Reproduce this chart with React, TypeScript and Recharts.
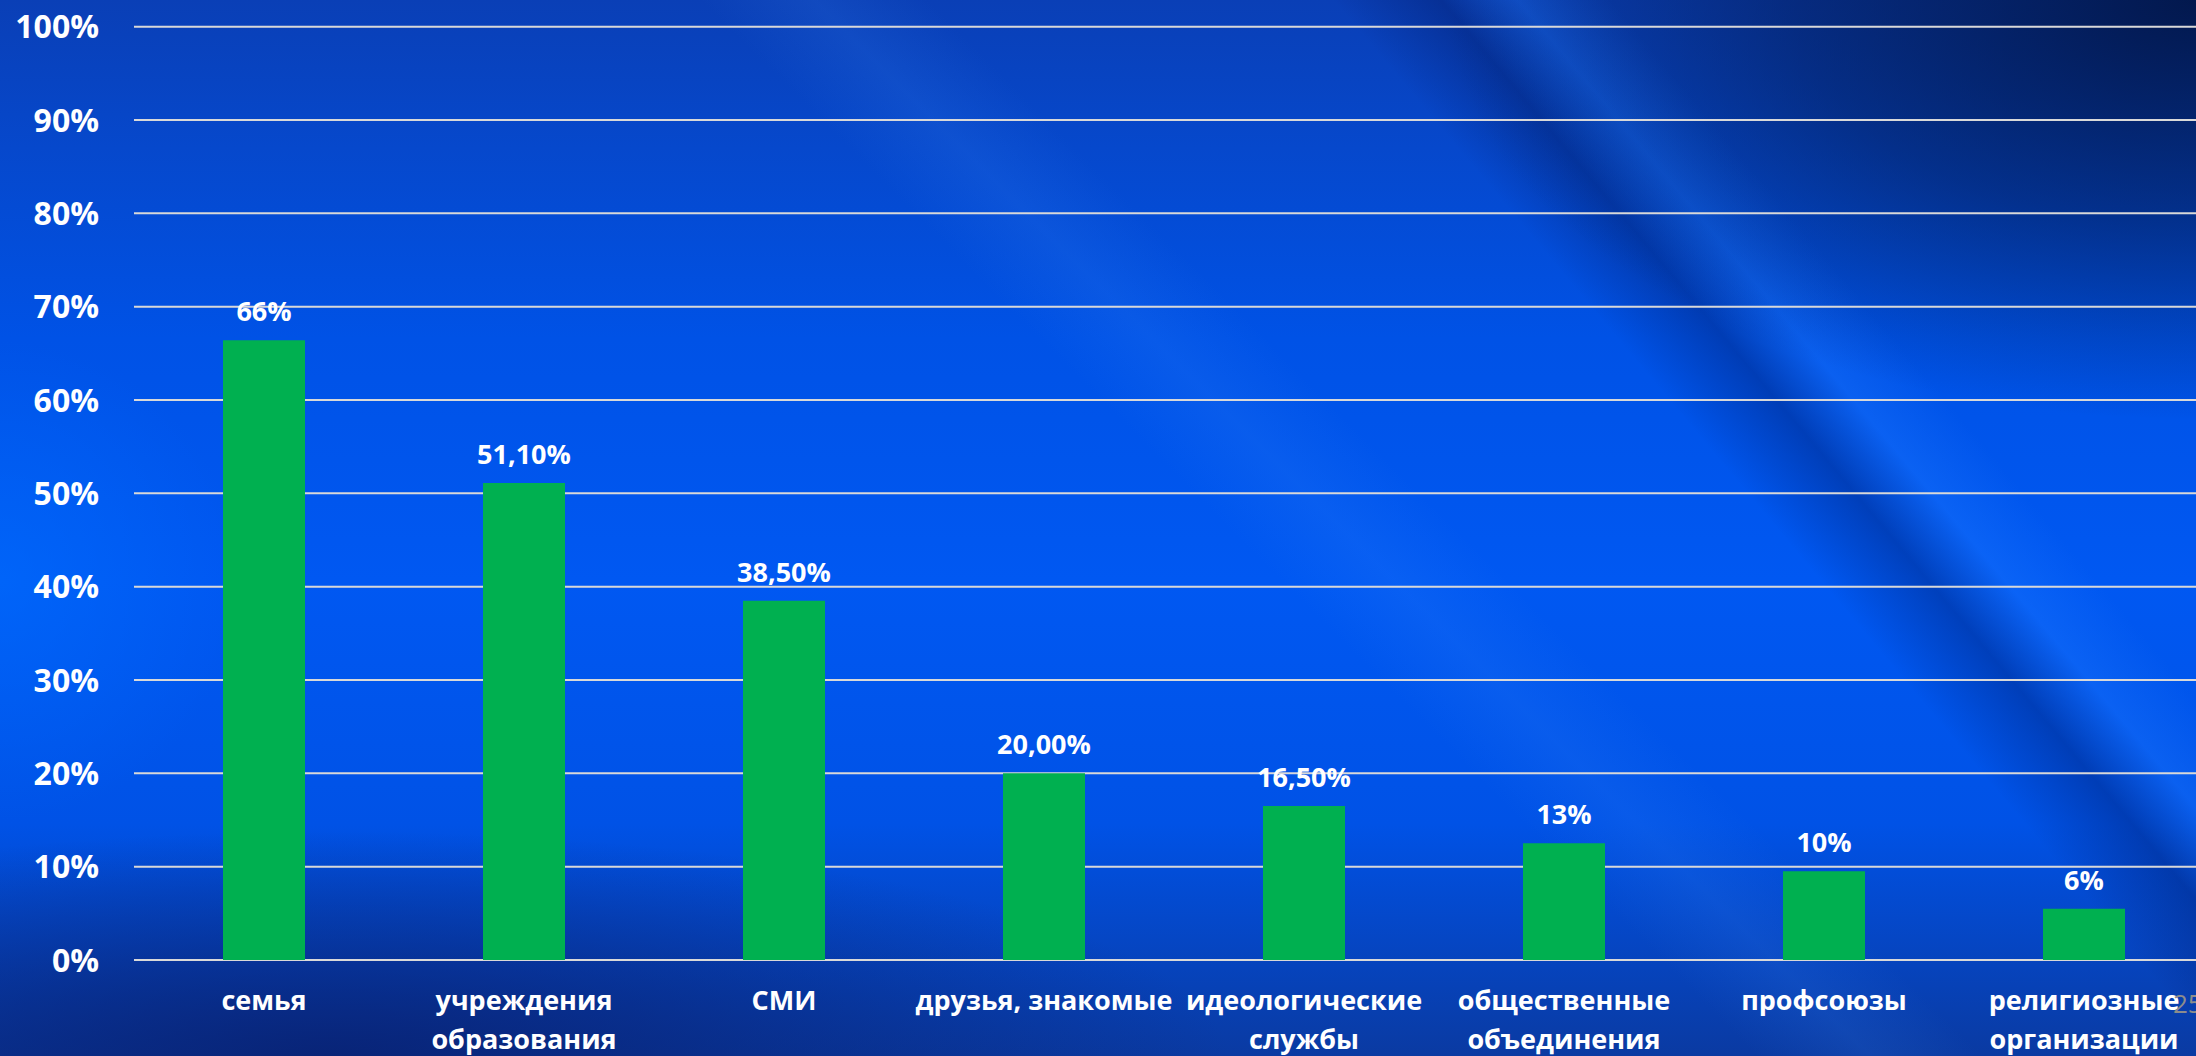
import { BarChart, Bar, XAxis, YAxis, CartesianGrid, LabelList } from "recharts";

// categories as they appear on the slide, split into the lines shown under each bar
const categoryLines: string[][] = [
  ["семья"],
  ["учреждения", "образования"],
  ["СМИ"],
  ["друзья, знакомые"],
  ["идеологические", "службы"],
  ["общественные", "объединения"],
  ["профсоюзы"],
  ["религиозные", "организации"],
];
const categories = categoryLines.map((l) => l.join(" "));

// bar heights (percent)
const values = [66.4, 51.1, 38.5, 20.0, 16.5, 12.5, 9.5, 5.5];
// data labels exactly as printed
const valueLabels = ["66%", "51,10%", "38,50%", "20,00%", "16,50%", "13%", "10%", "6%"];
const yTicks = [0, 10, 20, 30, 40, 50, 60, 70, 80, 90, 100];

const data = categories.map((name, i) => ({ name, v: values[i], label: valueLabels[i] }));

const FONT = "'Open Sans', 'Noto Sans', sans-serif";

const background = [
  "radial-gradient(ellipse 1000px 560px at 100% 0%, rgba(2,22,72,0.95), rgba(2,22,72,0.5) 40%, rgba(2,22,72,0) 75%)",
  "radial-gradient(ellipse 1200px 300px at 15% 100%, rgba(8,32,112,0.85), rgba(8,32,112,0) 75%)",
  "radial-gradient(ellipse 300px 300px at 0% 55%, rgba(0,110,255,0.55), rgba(0,110,255,0) 80%)",
  "linear-gradient(45deg, rgba(70,150,255,0) 54%, rgba(70,150,255,0.12) 57.5%, rgba(70,150,255,0) 61%)",
  "linear-gradient(50deg, rgba(0,20,90,0) 72%, rgba(0,20,90,0.35) 75.5%, rgba(30,120,255,0.35) 78%, rgba(30,120,255,0) 81%)",
  "linear-gradient(180deg, #0a3fb6 0%, #0648cc 14%, #0052e6 32%, #0058f2 55%, #0052e6 78%, #0a3aa2 100%)",
].join(", ");

function YTick(props: any) {
  const { y, payload } = props;
  return (
    <text x={99} y={y} dy="0.36em" textAnchor="end" fill="#ffffff" fontSize={32} fontWeight={700} fontFamily={FONT}>
      {payload.value}%
    </text>
  );
}

function XTick(props: any) {
  const { x, y, payload } = props;
  const idx = categories.indexOf(payload.value);
  const lines = idx >= 0 ? categoryLines[idx] : [String(payload.value)];
  return (
    <text x={x} y={y} textAnchor="middle" fill="#ffffff" fontSize={27} fontWeight={700} fontFamily={FONT}>
      {lines.map((line, i) => (
        <tspan key={i} x={x} dy={i === 0 ? 50 : 39}>
          {line}
        </tspan>
      ))}
    </text>
  );
}

export default function App() {
  return (
    <div
      style={{
        position: "absolute",
        left: 0,
        top: 0,
        width: 2196,
        height: 1056,
        overflow: "hidden",
        background,
      }}
    >
      <BarChart
        width={2214}
        height={1056}
        data={data}
        margin={{ top: 26.7, right: 0, bottom: 0, left: 0 }}
        barCategoryGap={0}
      >
        <CartesianGrid stroke="#d9d9d9" strokeWidth={2} vertical={false} />
        <XAxis
          dataKey="name"
          interval={0}
          axisLine={false}
          tickLine={false}
          tickSize={0}
          tickMargin={0}
          height={96}
          tick={<XTick />}
        />
        <YAxis
          width={134}
          domain={[0, 100]}
          ticks={yTicks}
          axisLine={false}
          tickLine={false}
          tick={<YTick />}
        />
        <Bar dataKey="v" fill="#00b050" barSize={82} isAnimationActive={false}>
          <LabelList
            dataKey="label"
            position="top"
            offset={19}
            fill="#ffffff"
            fontSize={27}
            fontWeight={700}
            fontFamily={FONT}
          />
        </Bar>
      </BarChart>
      <div
        style={{
          position: "absolute",
          left: 2173,
          top: 984,
          fontFamily: "'Open Sans', sans-serif",
          fontSize: 26,
          lineHeight: "38px",
          color: "#8c8c8c",
          whiteSpace: "nowrap",
        }}
      >
        25
      </div>
    </div>
  );
}
